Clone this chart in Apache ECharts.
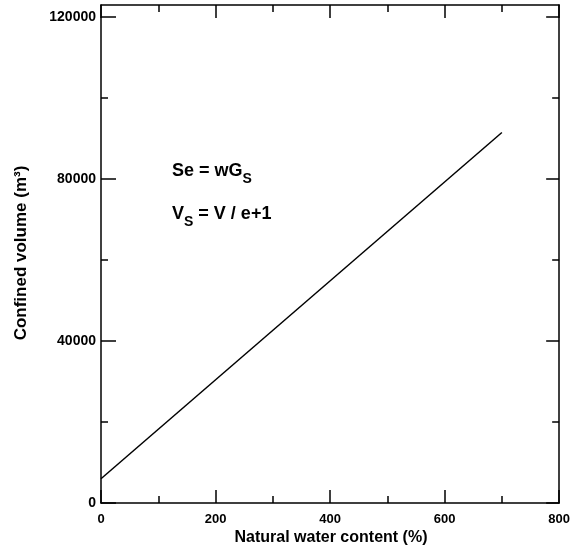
<!DOCTYPE html>
<html><head><meta charset="utf-8">
<script src="https://cdn.jsdelivr.net/npm/echarts@6/dist/echarts.min.js"></script>
<style>html,body{margin:0;padding:0;background:#fff}#c{width:573px;height:550px}</style>
</head><body><div id="c"></div>
<script>
const waterContent = [0, 700];
const confinedVolume = [6000, 91500];
const xMajorTicks = [0, 200, 400, 600, 800];
const xMinorTicks = [100, 300, 500, 700];
const yMajorTicks = [0, 40000, 80000, 120000];
const yMinorTicks = [20000, 60000, 100000];
const xTitle = 'Natural water content (%)';
const yTitle = 'Confined volume (m³)';

const font = 'Liberation Sans, Arial, sans-serif';
const XMAX = 800, YMAX = 123000;
const lineStyle = {color: '#000', width: 1.5};

function xAx(pos, ticks, len, labels, line) {
  return {type: 'value', position: pos, min: 0, max: XMAX,
    splitLine: {show: false},
    axisLine: {show: line, onZero: false, lineStyle},
    axisTick: {show: true, inside: true, length: len, customValues: ticks, lineStyle: {color: '#000', width: 1.5}},
    axisLabel: labels ? {show: true, customValues: ticks, formatter: v => String(v), color: '#000', fontFamily: font, fontWeight: 'bold', fontSize: 13, margin: 10} : {show: false}
  };
}
function yAx(pos, ticks, len, labels, line) {
  return {type: 'value', position: pos, min: 0, max: YMAX,
    splitLine: {show: false},
    axisLine: {show: line, onZero: false, lineStyle},
    axisTick: {show: true, inside: true, length: len, customValues: ticks, lineStyle: {color: '#000', width: 1.5}},
    axisLabel: labels ? {show: true, customValues: ticks, formatter: v => String(v), color: '#000', fontFamily: font, fontWeight: 'bold', fontSize: 14, margin: 5} : {show: false}
  };
}

const chart = echarts.init(document.getElementById('c'), null, {renderer: 'canvas'});
chart.setOption({
  animation: false,
  backgroundColor: '#fff',
  grid: {left: 101, right: 12, top: 5, bottom: 47, containLabel: false},
  xAxis: [
    xAx('bottom', xMajorTicks, 13, true, true),
    xAx('bottom', xMinorTicks, 7, false, false),
    xAx('top', xMajorTicks, 13, false, true),
    xAx('top', xMinorTicks, 7, false, false)
  ],
  yAxis: [
    yAx('left', yMajorTicks, 15, true, true),
    yAx('left', yMinorTicks, 7, false, false),
    yAx('right', yMajorTicks, 13, false, true),
    yAx('right', yMinorTicks, 7, false, false)
  ],
  series: [{
    type: 'line', xAxisIndex: 0, yAxisIndex: 0,
    data: waterContent.map((w, i) => [w, confinedVolume[i]]),
    showSymbol: false, symbol: 'none',
    lineStyle: {color: '#000', width: 1.5}
  }],
  graphic: [
    {type: 'text', x: 331, y: 538, style: {text: xTitle, fill: '#000', font: 'bold 16px ' + font, align: 'center', verticalAlign: 'middle'}},
    {type: 'text', x: 21, y: 253, rotation: Math.PI / 2, style: {text: yTitle, fill: '#000', font: 'bold 17px ' + font, align: 'center', verticalAlign: 'middle'}},
    {type: 'text', x: 172, y: 137, style: {
      text: '{m|Se = wG}{s|S}\n{m|V}{s|S}{m| = V / e+1}',
      rich: {
        m: {font: 'bold 18px ' + font, fill: '#000', lineHeight: 43, verticalAlign: 'bottom'},
        s: {font: 'bold 14px ' + font, fill: '#000', lineHeight: 43, verticalAlign: 'bottom', padding: [0, 0, -6, 0]}
      }
    }}
  ]
});
</script></body></html>
